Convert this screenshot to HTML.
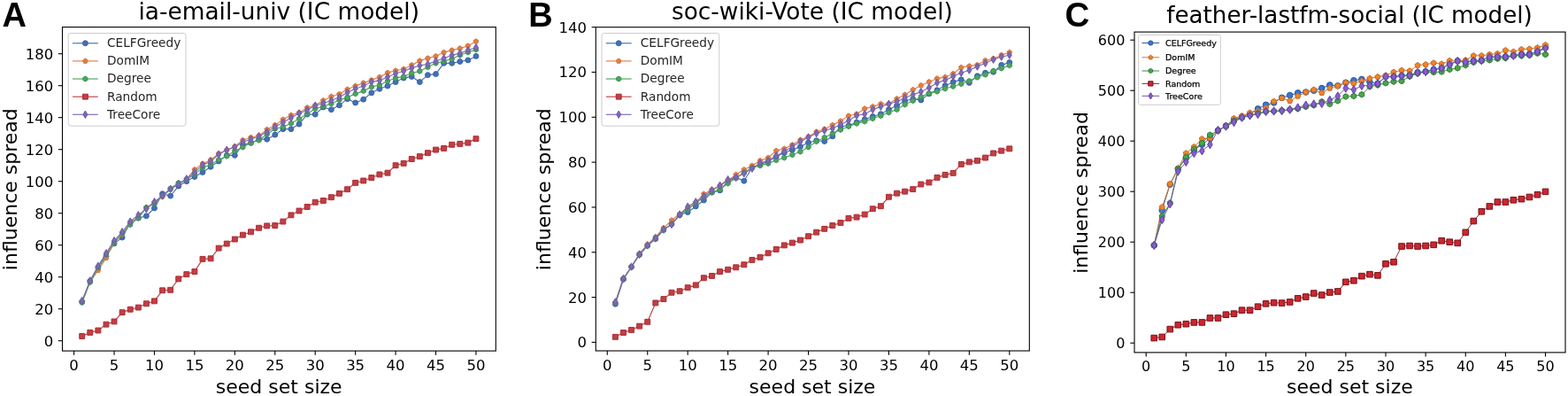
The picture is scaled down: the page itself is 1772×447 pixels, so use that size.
<!DOCTYPE html><html><head><meta charset="utf-8"><title>Influence spread</title><style>html,body{margin:0;padding:0;background:#fff;}svg{display:block;}</style></head><body><svg width="1772" height="447" viewBox="0 0 1772 447" font-family="'DejaVu Sans', 'Liberation Sans', sans-serif" fill="#000"><defs><circle id="aB" r="2.95" fill="#4470b2" stroke="#3862a8" stroke-width="1"/><polygon id="aO" points="0,-2.95 2.81,-0.91 1.73,2.39 -1.73,2.39 -2.81,-0.91" fill="#de7f48" stroke="#d87236" stroke-width="1" stroke-linejoin="miter"/><polygon id="aG" points="0,-2.95 2.55,-1.48 2.55,1.47 0,2.95 -2.55,1.48 -2.55,-1.48" fill="#4ea460" stroke="#3d9450" stroke-width="1" stroke-linejoin="miter"/><polygon id="aR" points="-2.95,-2.95 2.95,-2.95 2.95,2.95 -2.95,2.95" fill="#be4045" stroke="#b02a33" stroke-width="1" stroke-linejoin="miter"/><polygon id="aP" points="0,-4.17 2.5,0 0,4.17 -2.5,0" fill="#7d6ab3" stroke="#6c5aa8" stroke-width="1" stroke-linejoin="miter"/><circle id="aLB" r="2.95" fill="#4470b2" stroke="#3862a8" stroke-width="1"/><polygon id="aLO" points="0,-2.95 2.81,-0.91 1.73,2.39 -1.73,2.39 -2.81,-0.91" fill="#de7f48" stroke="#d87236" stroke-width="1" stroke-linejoin="miter"/><polygon id="aLG" points="0,-2.95 2.55,-1.48 2.55,1.47 0,2.95 -2.55,1.48 -2.55,-1.48" fill="#4ea460" stroke="#3d9450" stroke-width="1" stroke-linejoin="miter"/><polygon id="aLR" points="-2.95,-2.95 2.95,-2.95 2.95,2.95 -2.95,2.95" fill="#be4045" stroke="#b02a33" stroke-width="1" stroke-linejoin="miter"/><polygon id="aLP" points="0,-4.17 2.5,0 0,4.17 -2.5,0" fill="#7d6ab3" stroke="#6c5aa8" stroke-width="1" stroke-linejoin="miter"/><circle id="bB" r="2.95" fill="#4470b2" stroke="#3862a8" stroke-width="1"/><polygon id="bO" points="0,-2.95 2.81,-0.91 1.73,2.39 -1.73,2.39 -2.81,-0.91" fill="#de7f48" stroke="#d87236" stroke-width="1" stroke-linejoin="miter"/><polygon id="bG" points="0,-2.95 2.55,-1.48 2.55,1.47 0,2.95 -2.55,1.48 -2.55,-1.48" fill="#4ea460" stroke="#3d9450" stroke-width="1" stroke-linejoin="miter"/><polygon id="bR" points="-2.95,-2.95 2.95,-2.95 2.95,2.95 -2.95,2.95" fill="#be4045" stroke="#b02a33" stroke-width="1" stroke-linejoin="miter"/><polygon id="bP" points="0,-4.17 2.5,0 0,4.17 -2.5,0" fill="#7d6ab3" stroke="#6c5aa8" stroke-width="1" stroke-linejoin="miter"/><circle id="bLB" r="2.95" fill="#4470b2" stroke="#3862a8" stroke-width="1"/><polygon id="bLO" points="0,-2.95 2.81,-0.91 1.73,2.39 -1.73,2.39 -2.81,-0.91" fill="#de7f48" stroke="#d87236" stroke-width="1" stroke-linejoin="miter"/><polygon id="bLG" points="0,-2.95 2.55,-1.48 2.55,1.47 0,2.95 -2.55,1.48 -2.55,-1.48" fill="#4ea460" stroke="#3d9450" stroke-width="1" stroke-linejoin="miter"/><polygon id="bLR" points="-2.95,-2.95 2.95,-2.95 2.95,2.95 -2.95,2.95" fill="#be4045" stroke="#b02a33" stroke-width="1" stroke-linejoin="miter"/><polygon id="bLP" points="0,-4.17 2.5,0 0,4.17 -2.5,0" fill="#7d6ab3" stroke="#6c5aa8" stroke-width="1" stroke-linejoin="miter"/><circle id="cB" r="3.3" fill="#3a74d0" stroke="#2458a8" stroke-width="1"/><polygon id="cO" points="0,-3.3 3.14,-1.02 1.94,2.67 -1.94,2.67 -3.14,-1.02" fill="#f08328" stroke="#c86a20" stroke-width="1" stroke-linejoin="miter"/><polygon id="cG" points="0,-3.3 2.86,-1.65 2.86,1.65 0,3.3 -2.86,1.65 -2.86,-1.65" fill="#46a846" stroke="#2e7a30" stroke-width="1" stroke-linejoin="miter"/><polygon id="cR" points="-3.3,-3.3 3.3,-3.3 3.3,3.3 -3.3,3.3" fill="#cc2630" stroke="#7a1018" stroke-width="1" stroke-linejoin="miter"/><polygon id="cP" points="0,-4.67 2.8,0 0,4.67 -2.8,0" fill="#8a5cd0" stroke="#6040a0" stroke-width="1" stroke-linejoin="miter"/><circle id="cLB" r="2.6" fill="#3a74d0" stroke="#2458a8" stroke-width="1"/><polygon id="cLO" points="0,-2.6 2.47,-0.8 1.53,2.1 -1.53,2.1 -2.47,-0.8" fill="#f08328" stroke="#c86a20" stroke-width="1" stroke-linejoin="miter"/><polygon id="cLG" points="0,-2.6 2.25,-1.3 2.25,1.3 0,2.6 -2.25,1.3 -2.25,-1.3" fill="#46a846" stroke="#2e7a30" stroke-width="1" stroke-linejoin="miter"/><polygon id="cLR" points="-2.6,-2.6 2.6,-2.6 2.6,2.6 -2.6,2.6" fill="#cc2630" stroke="#7a1018" stroke-width="1" stroke-linejoin="miter"/><polygon id="cLP" points="0,-3.68 2.21,0 0,3.68 -2.21,0" fill="#8a5cd0" stroke="#6040a0" stroke-width="1" stroke-linejoin="miter"/></defs><rect width="1772" height="447" fill="#fff"/><polyline points="92.69,340.6 101.77,317.2 110.86,301.9 119.95,289.3 129.03,274.9 138.12,268.06 147.21,251.5 156.3,246.1 165.38,243.76 174.47,234.94 183.56,218.74 192.64,221.08 201.73,210.1 210.82,204.7 219.91,199.48 228.99,194.44 238.08,188.32 247.17,182.02 256.25,175.36 265.34,175.36 274.43,163.3 283.51,161.32 292.6,157.18 301.69,157.18 310.77,152.14 319.86,145.66 328.95,145.66 338.04,140.08 347.12,129.1 356.21,129.1 365.3,121 374.38,123.7 383.47,118.84 392.56,111.64 401.64,115.96 410.73,112.18 419.82,104.8 428.91,100.3 437.99,97.06 447.08,92.56 456.17,88.06 465.25,86.44 474.34,92.56 483.43,84.64 492.51,83.56 501.6,71.32 510.69,71.32 519.78,69.52 528.86,67.9 537.95,63.4" fill="none" stroke="#4470b2" stroke-width="1.15" stroke-linejoin="round" stroke-linecap="square"/><use href="#aB" x="92.69" y="340.6"/><use href="#aB" x="101.77" y="317.2"/><use href="#aB" x="110.86" y="301.9"/><use href="#aB" x="119.95" y="289.3"/><use href="#aB" x="129.03" y="274.9"/><use href="#aB" x="138.12" y="268.06"/><use href="#aB" x="147.21" y="251.5"/><use href="#aB" x="156.3" y="246.1"/><use href="#aB" x="165.38" y="243.76"/><use href="#aB" x="174.47" y="234.94"/><use href="#aB" x="183.56" y="218.74"/><use href="#aB" x="192.64" y="221.08"/><use href="#aB" x="201.73" y="210.1"/><use href="#aB" x="210.82" y="204.7"/><use href="#aB" x="219.91" y="199.48"/><use href="#aB" x="228.99" y="194.44"/><use href="#aB" x="238.08" y="188.32"/><use href="#aB" x="247.17" y="182.02"/><use href="#aB" x="256.25" y="175.36"/><use href="#aB" x="265.34" y="175.36"/><use href="#aB" x="274.43" y="163.3"/><use href="#aB" x="283.51" y="161.32"/><use href="#aB" x="292.6" y="157.18"/><use href="#aB" x="301.69" y="157.18"/><use href="#aB" x="310.77" y="152.14"/><use href="#aB" x="319.86" y="145.66"/><use href="#aB" x="328.95" y="145.66"/><use href="#aB" x="338.04" y="140.08"/><use href="#aB" x="347.12" y="129.1"/><use href="#aB" x="356.21" y="129.1"/><use href="#aB" x="365.3" y="121"/><use href="#aB" x="374.38" y="123.7"/><use href="#aB" x="383.47" y="118.84"/><use href="#aB" x="392.56" y="111.64"/><use href="#aB" x="401.64" y="115.96"/><use href="#aB" x="410.73" y="112.18"/><use href="#aB" x="419.82" y="104.8"/><use href="#aB" x="428.91" y="100.3"/><use href="#aB" x="437.99" y="97.06"/><use href="#aB" x="447.08" y="92.56"/><use href="#aB" x="456.17" y="88.06"/><use href="#aB" x="465.25" y="86.44"/><use href="#aB" x="474.34" y="92.56"/><use href="#aB" x="483.43" y="84.64"/><use href="#aB" x="492.51" y="83.56"/><use href="#aB" x="501.6" y="71.32"/><use href="#aB" x="510.69" y="71.32"/><use href="#aB" x="519.78" y="69.52"/><use href="#aB" x="528.86" y="67.9"/><use href="#aB" x="537.95" y="63.4"/><polyline points="92.69,340.6 101.77,318.1 110.86,305.14 119.95,291.1 129.03,274 138.12,264.46 147.21,251.5 156.3,245.2 165.38,234.04 174.47,229 183.56,221.8 192.64,213.7 201.73,207.4 210.82,202 219.91,191.38 228.99,184.72 238.08,180.4 247.17,173.38 256.25,169.24 265.34,165.28 274.43,158.26 283.51,155.2 292.6,153.22 301.69,146.2 310.77,141.16 319.86,134.86 328.95,130 338.04,127.12 347.12,121.54 356.21,118.84 365.3,113.44 374.38,108.94 383.47,106.24 392.56,100.84 401.64,97.06 410.73,93.64 419.82,90.4 428.91,86.98 437.99,82.12 447.08,79.78 456.17,77.98 465.25,73.48 474.34,68.62 483.43,65.74 492.51,63.4 501.6,59.08 510.69,56.74 519.78,54.58 528.86,51.7 537.95,46.66" fill="none" stroke="#de7f48" stroke-width="1.15" stroke-linejoin="round" stroke-linecap="square"/><use href="#aO" x="92.69" y="340.6"/><use href="#aO" x="101.77" y="318.1"/><use href="#aO" x="110.86" y="305.14"/><use href="#aO" x="119.95" y="291.1"/><use href="#aO" x="129.03" y="274"/><use href="#aO" x="138.12" y="264.46"/><use href="#aO" x="147.21" y="251.5"/><use href="#aO" x="156.3" y="245.2"/><use href="#aO" x="165.38" y="234.04"/><use href="#aO" x="174.47" y="229"/><use href="#aO" x="183.56" y="221.8"/><use href="#aO" x="192.64" y="213.7"/><use href="#aO" x="201.73" y="207.4"/><use href="#aO" x="210.82" y="202"/><use href="#aO" x="219.91" y="191.38"/><use href="#aO" x="228.99" y="184.72"/><use href="#aO" x="238.08" y="180.4"/><use href="#aO" x="247.17" y="173.38"/><use href="#aO" x="256.25" y="169.24"/><use href="#aO" x="265.34" y="165.28"/><use href="#aO" x="274.43" y="158.26"/><use href="#aO" x="283.51" y="155.2"/><use href="#aO" x="292.6" y="153.22"/><use href="#aO" x="301.69" y="146.2"/><use href="#aO" x="310.77" y="141.16"/><use href="#aO" x="319.86" y="134.86"/><use href="#aO" x="328.95" y="130"/><use href="#aO" x="338.04" y="127.12"/><use href="#aO" x="347.12" y="121.54"/><use href="#aO" x="356.21" y="118.84"/><use href="#aO" x="365.3" y="113.44"/><use href="#aO" x="374.38" y="108.94"/><use href="#aO" x="383.47" y="106.24"/><use href="#aO" x="392.56" y="100.84"/><use href="#aO" x="401.64" y="97.06"/><use href="#aO" x="410.73" y="93.64"/><use href="#aO" x="419.82" y="90.4"/><use href="#aO" x="428.91" y="86.98"/><use href="#aO" x="437.99" y="82.12"/><use href="#aO" x="447.08" y="79.78"/><use href="#aO" x="456.17" y="77.98"/><use href="#aO" x="465.25" y="73.48"/><use href="#aO" x="474.34" y="68.62"/><use href="#aO" x="483.43" y="65.74"/><use href="#aO" x="492.51" y="63.4"/><use href="#aO" x="501.6" y="59.08"/><use href="#aO" x="510.69" y="56.74"/><use href="#aO" x="519.78" y="54.58"/><use href="#aO" x="528.86" y="51.7"/><use href="#aO" x="537.95" y="46.66"/><polyline points="92.69,341.5 101.77,318.64 110.86,301.9 119.95,287.5 129.03,274 138.12,263.2 147.21,253.66 156.3,246.1 165.38,234.4 174.47,229.9 183.56,220.9 192.64,212.8 201.73,206.5 210.82,202.9 219.91,196.42 228.99,189.4 238.08,185.44 247.17,180.4 256.25,176.26 265.34,170.32 274.43,166.18 283.51,161.32 292.6,158.26 301.69,151.42 310.77,145.48 319.86,143.14 328.95,139.18 338.04,134.14 347.12,128.56 356.21,122.8 365.3,120.1 374.38,117.04 383.47,112.9 392.56,109.84 401.64,105.88 410.73,102.64 419.82,98.14 428.91,95.98 437.99,91.48 447.08,88.06 456.17,86.44 465.25,82.48 474.34,80.32 483.43,75.82 492.51,71.32 501.6,68.98 510.69,66.46 519.78,62.32 528.86,59.08 537.95,56.02" fill="none" stroke="#4ea460" stroke-width="1.15" stroke-linejoin="round" stroke-linecap="square"/><use href="#aG" x="92.69" y="341.5"/><use href="#aG" x="101.77" y="318.64"/><use href="#aG" x="110.86" y="301.9"/><use href="#aG" x="119.95" y="287.5"/><use href="#aG" x="129.03" y="274"/><use href="#aG" x="138.12" y="263.2"/><use href="#aG" x="147.21" y="253.66"/><use href="#aG" x="156.3" y="246.1"/><use href="#aG" x="165.38" y="234.4"/><use href="#aG" x="174.47" y="229.9"/><use href="#aG" x="183.56" y="220.9"/><use href="#aG" x="192.64" y="212.8"/><use href="#aG" x="201.73" y="206.5"/><use href="#aG" x="210.82" y="202.9"/><use href="#aG" x="219.91" y="196.42"/><use href="#aG" x="228.99" y="189.4"/><use href="#aG" x="238.08" y="185.44"/><use href="#aG" x="247.17" y="180.4"/><use href="#aG" x="256.25" y="176.26"/><use href="#aG" x="265.34" y="170.32"/><use href="#aG" x="274.43" y="166.18"/><use href="#aG" x="283.51" y="161.32"/><use href="#aG" x="292.6" y="158.26"/><use href="#aG" x="301.69" y="151.42"/><use href="#aG" x="310.77" y="145.48"/><use href="#aG" x="319.86" y="143.14"/><use href="#aG" x="328.95" y="139.18"/><use href="#aG" x="338.04" y="134.14"/><use href="#aG" x="347.12" y="128.56"/><use href="#aG" x="356.21" y="122.8"/><use href="#aG" x="365.3" y="120.1"/><use href="#aG" x="374.38" y="117.04"/><use href="#aG" x="383.47" y="112.9"/><use href="#aG" x="392.56" y="109.84"/><use href="#aG" x="401.64" y="105.88"/><use href="#aG" x="410.73" y="102.64"/><use href="#aG" x="419.82" y="98.14"/><use href="#aG" x="428.91" y="95.98"/><use href="#aG" x="437.99" y="91.48"/><use href="#aG" x="447.08" y="88.06"/><use href="#aG" x="456.17" y="86.44"/><use href="#aG" x="465.25" y="82.48"/><use href="#aG" x="474.34" y="80.32"/><use href="#aG" x="483.43" y="75.82"/><use href="#aG" x="492.51" y="71.32"/><use href="#aG" x="501.6" y="68.98"/><use href="#aG" x="510.69" y="66.46"/><use href="#aG" x="519.78" y="62.32"/><use href="#aG" x="528.86" y="59.08"/><use href="#aG" x="537.95" y="56.02"/><polyline points="92.69,379.48 101.77,375.34 110.86,373 119.95,366.16 129.03,362.92 138.12,352.66 147.21,349.24 156.3,347.08 165.38,342.76 174.47,339.88 183.56,327.82 192.64,327.28 201.73,314.86 210.82,309.64 219.91,306.58 228.99,292.36 238.08,291.82 247.17,280.12 256.25,275.08 265.34,270.04 274.43,265.18 283.51,261.76 292.6,257.26 301.69,254.92 310.77,254.56 319.86,250.06 328.95,242.86 338.04,238 347.12,233.5 356.21,228.28 365.3,226.48 374.38,222.7 383.47,218.38 392.56,213.7 401.64,206.32 410.73,203.98 419.82,200.56 428.91,196.96 437.99,195.16 447.08,186.7 456.17,184.36 465.25,179.5 474.34,176.62 483.43,172.66 492.51,169.06 501.6,167.44 510.69,163.3 519.78,162.4 528.86,161.14 537.95,156.64" fill="none" stroke="#be4045" stroke-width="1.15" stroke-linejoin="round" stroke-linecap="square"/><use href="#aR" x="92.69" y="379.48"/><use href="#aR" x="101.77" y="375.34"/><use href="#aR" x="110.86" y="373"/><use href="#aR" x="119.95" y="366.16"/><use href="#aR" x="129.03" y="362.92"/><use href="#aR" x="138.12" y="352.66"/><use href="#aR" x="147.21" y="349.24"/><use href="#aR" x="156.3" y="347.08"/><use href="#aR" x="165.38" y="342.76"/><use href="#aR" x="174.47" y="339.88"/><use href="#aR" x="183.56" y="327.82"/><use href="#aR" x="192.64" y="327.28"/><use href="#aR" x="201.73" y="314.86"/><use href="#aR" x="210.82" y="309.64"/><use href="#aR" x="219.91" y="306.58"/><use href="#aR" x="228.99" y="292.36"/><use href="#aR" x="238.08" y="291.82"/><use href="#aR" x="247.17" y="280.12"/><use href="#aR" x="256.25" y="275.08"/><use href="#aR" x="265.34" y="270.04"/><use href="#aR" x="274.43" y="265.18"/><use href="#aR" x="283.51" y="261.76"/><use href="#aR" x="292.6" y="257.26"/><use href="#aR" x="301.69" y="254.92"/><use href="#aR" x="310.77" y="254.56"/><use href="#aR" x="319.86" y="250.06"/><use href="#aR" x="328.95" y="242.86"/><use href="#aR" x="338.04" y="238"/><use href="#aR" x="347.12" y="233.5"/><use href="#aR" x="356.21" y="228.28"/><use href="#aR" x="365.3" y="226.48"/><use href="#aR" x="374.38" y="222.7"/><use href="#aR" x="383.47" y="218.38"/><use href="#aR" x="392.56" y="213.7"/><use href="#aR" x="401.64" y="206.32"/><use href="#aR" x="410.73" y="203.98"/><use href="#aR" x="419.82" y="200.56"/><use href="#aR" x="428.91" y="196.96"/><use href="#aR" x="437.99" y="195.16"/><use href="#aR" x="447.08" y="186.7"/><use href="#aR" x="456.17" y="184.36"/><use href="#aR" x="465.25" y="179.5"/><use href="#aR" x="474.34" y="176.62"/><use href="#aR" x="483.43" y="172.66"/><use href="#aR" x="492.51" y="169.06"/><use href="#aR" x="501.6" y="167.44"/><use href="#aR" x="510.69" y="163.3"/><use href="#aR" x="519.78" y="162.4"/><use href="#aR" x="528.86" y="161.14"/><use href="#aR" x="537.95" y="156.64"/><polyline points="92.69,339.52 101.77,316.84 110.86,300.28 119.95,285.88 129.03,271.66 138.12,261.76 147.21,250.06 156.3,242.68 165.38,235.84 174.47,227.74 183.56,221.08 192.64,213.34 201.73,207.94 210.82,201.82 219.91,194.44 228.99,186.34 238.08,182.38 247.17,174.28 256.25,169.24 265.34,166.18 274.43,160.24 283.51,157.18 292.6,153.76 301.69,149.08 310.77,143.14 319.86,138.28 328.95,133.06 338.04,128.02 347.12,124.24 356.21,119.2 365.3,116.5 374.38,113.44 383.47,109.84 392.56,104.44 401.64,100.3 410.73,97.06 419.82,92.56 428.91,90.94 437.99,86.98 447.08,83.02 456.17,80.32 465.25,76.9 474.34,74.02 483.43,72.4 492.51,68.98 501.6,65.74 510.69,62.32 519.78,60.16 528.86,56.74 537.95,53.5" fill="none" stroke="#7d6ab3" stroke-width="1.15" stroke-linejoin="round" stroke-linecap="square"/><use href="#aP" x="92.69" y="339.52"/><use href="#aP" x="101.77" y="316.84"/><use href="#aP" x="110.86" y="300.28"/><use href="#aP" x="119.95" y="285.88"/><use href="#aP" x="129.03" y="271.66"/><use href="#aP" x="138.12" y="261.76"/><use href="#aP" x="147.21" y="250.06"/><use href="#aP" x="156.3" y="242.68"/><use href="#aP" x="165.38" y="235.84"/><use href="#aP" x="174.47" y="227.74"/><use href="#aP" x="183.56" y="221.08"/><use href="#aP" x="192.64" y="213.34"/><use href="#aP" x="201.73" y="207.94"/><use href="#aP" x="210.82" y="201.82"/><use href="#aP" x="219.91" y="194.44"/><use href="#aP" x="228.99" y="186.34"/><use href="#aP" x="238.08" y="182.38"/><use href="#aP" x="247.17" y="174.28"/><use href="#aP" x="256.25" y="169.24"/><use href="#aP" x="265.34" y="166.18"/><use href="#aP" x="274.43" y="160.24"/><use href="#aP" x="283.51" y="157.18"/><use href="#aP" x="292.6" y="153.76"/><use href="#aP" x="301.69" y="149.08"/><use href="#aP" x="310.77" y="143.14"/><use href="#aP" x="319.86" y="138.28"/><use href="#aP" x="328.95" y="133.06"/><use href="#aP" x="338.04" y="128.02"/><use href="#aP" x="347.12" y="124.24"/><use href="#aP" x="356.21" y="119.2"/><use href="#aP" x="365.3" y="116.5"/><use href="#aP" x="374.38" y="113.44"/><use href="#aP" x="383.47" y="109.84"/><use href="#aP" x="392.56" y="104.44"/><use href="#aP" x="401.64" y="100.3"/><use href="#aP" x="410.73" y="97.06"/><use href="#aP" x="419.82" y="92.56"/><use href="#aP" x="428.91" y="90.94"/><use href="#aP" x="437.99" y="86.98"/><use href="#aP" x="447.08" y="83.02"/><use href="#aP" x="456.17" y="80.32"/><use href="#aP" x="465.25" y="76.9"/><use href="#aP" x="474.34" y="74.02"/><use href="#aP" x="483.43" y="72.4"/><use href="#aP" x="492.51" y="68.98"/><use href="#aP" x="501.6" y="65.74"/><use href="#aP" x="510.69" y="62.32"/><use href="#aP" x="519.78" y="60.16"/><use href="#aP" x="528.86" y="56.74"/><use href="#aP" x="537.95" y="53.5"/><rect x="70.5" y="30.6" width="489.8" height="365.5" fill="none" stroke="#000" stroke-width="1.1"/><line x1="83.6" y1="396.1" x2="83.6" y2="400.77" stroke="#000" stroke-width="1.1"/><text x="83.6" y="418.2" text-anchor="middle" font-size="16.5">0</text><line x1="129.03" y1="396.1" x2="129.03" y2="400.77" stroke="#000" stroke-width="1.1"/><text x="129.03" y="418.2" text-anchor="middle" font-size="16.5">5</text><line x1="174.47" y1="396.1" x2="174.47" y2="400.77" stroke="#000" stroke-width="1.1"/><text x="174.47" y="418.2" text-anchor="middle" font-size="16.5">10</text><line x1="219.91" y1="396.1" x2="219.91" y2="400.77" stroke="#000" stroke-width="1.1"/><text x="219.91" y="418.2" text-anchor="middle" font-size="16.5">15</text><line x1="265.34" y1="396.1" x2="265.34" y2="400.77" stroke="#000" stroke-width="1.1"/><text x="265.34" y="418.2" text-anchor="middle" font-size="16.5">20</text><line x1="310.77" y1="396.1" x2="310.77" y2="400.77" stroke="#000" stroke-width="1.1"/><text x="310.77" y="418.2" text-anchor="middle" font-size="16.5">25</text><line x1="356.21" y1="396.1" x2="356.21" y2="400.77" stroke="#000" stroke-width="1.1"/><text x="356.21" y="418.2" text-anchor="middle" font-size="16.5">30</text><line x1="401.64" y1="396.1" x2="401.64" y2="400.77" stroke="#000" stroke-width="1.1"/><text x="401.64" y="418.2" text-anchor="middle" font-size="16.5">35</text><line x1="447.08" y1="396.1" x2="447.08" y2="400.77" stroke="#000" stroke-width="1.1"/><text x="447.08" y="418.2" text-anchor="middle" font-size="16.5">40</text><line x1="492.51" y1="396.1" x2="492.51" y2="400.77" stroke="#000" stroke-width="1.1"/><text x="492.51" y="418.2" text-anchor="middle" font-size="16.5">45</text><line x1="537.95" y1="396.1" x2="537.95" y2="400.77" stroke="#000" stroke-width="1.1"/><text x="537.95" y="418.2" text-anchor="middle" font-size="16.5">50</text><line x1="65.83" y1="384.7" x2="70.5" y2="384.7" stroke="#000" stroke-width="1.1"/><text x="60.2" y="390.7" text-anchor="end" font-size="16.5">0</text><line x1="65.83" y1="348.7" x2="70.5" y2="348.7" stroke="#000" stroke-width="1.1"/><text x="60.2" y="354.7" text-anchor="end" font-size="16.5">20</text><line x1="65.83" y1="312.7" x2="70.5" y2="312.7" stroke="#000" stroke-width="1.1"/><text x="60.2" y="318.7" text-anchor="end" font-size="16.5">40</text><line x1="65.83" y1="276.7" x2="70.5" y2="276.7" stroke="#000" stroke-width="1.1"/><text x="60.2" y="282.7" text-anchor="end" font-size="16.5">60</text><line x1="65.83" y1="240.7" x2="70.5" y2="240.7" stroke="#000" stroke-width="1.1"/><text x="60.2" y="246.7" text-anchor="end" font-size="16.5">80</text><line x1="65.83" y1="204.7" x2="70.5" y2="204.7" stroke="#000" stroke-width="1.1"/><text x="60.2" y="210.7" text-anchor="end" font-size="16.5">100</text><line x1="65.83" y1="168.7" x2="70.5" y2="168.7" stroke="#000" stroke-width="1.1"/><text x="60.2" y="174.7" text-anchor="end" font-size="16.5">120</text><line x1="65.83" y1="132.7" x2="70.5" y2="132.7" stroke="#000" stroke-width="1.1"/><text x="60.2" y="138.7" text-anchor="end" font-size="16.5">140</text><line x1="65.83" y1="96.7" x2="70.5" y2="96.7" stroke="#000" stroke-width="1.1"/><text x="60.2" y="102.7" text-anchor="end" font-size="16.5">160</text><line x1="65.83" y1="60.7" x2="70.5" y2="60.7" stroke="#000" stroke-width="1.1"/><text x="60.2" y="66.7" text-anchor="end" font-size="16.5">180</text><text x="315.2" y="444" text-anchor="middle" font-size="22">seed set size</text><text transform="translate(18.8,213.7) rotate(-90)" text-anchor="middle" font-size="22">influence spread</text><text x="315.2" y="22.4" text-anchor="middle" font-size="26.4">ia-email-univ (IC model)</text><text x="2.6" y="29.8" font-size="38" font-weight="bold" style="font-family:'Liberation Sans', Arial, sans-serif">A</text><rect x="77.2" y="37.5" width="132.8" height="104.7" rx="2.7" fill="#fff" fill-opacity="0.8" stroke="#cccccc" stroke-width="1"/><line x1="82" y1="48.8" x2="110.8" y2="48.8" stroke="#4470b2" stroke-width="1.15"/><use href="#aLB" x="96.4" y="48.8"/><text x="121" y="53.2" font-size="13.7" fill="#262626">CELFGreedy</text><line x1="82" y1="68.92" x2="110.8" y2="68.92" stroke="#de7f48" stroke-width="1.15"/><use href="#aLO" x="96.4" y="68.92"/><text x="121" y="73.32" font-size="13.7" fill="#262626">DomIM</text><line x1="82" y1="89.04" x2="110.8" y2="89.04" stroke="#4ea460" stroke-width="1.15"/><use href="#aLG" x="96.4" y="89.04"/><text x="121" y="93.44" font-size="13.7" fill="#262626">Degree</text><line x1="82" y1="109.16" x2="110.8" y2="109.16" stroke="#be4045" stroke-width="1.15"/><use href="#aLR" x="96.4" y="109.16"/><text x="121" y="113.56" font-size="13.7" fill="#262626">Random</text><line x1="82" y1="129.28" x2="110.8" y2="129.28" stroke="#7d6ab3" stroke-width="1.15"/><use href="#aLP" x="96.4" y="129.28"/><text x="121" y="133.68" font-size="13.7" fill="#262626">TreeCore</text><polyline points="695.39,343.2 704.48,315.25 713.57,301.28 722.66,287.3 731.75,277.14 740.84,269.51 749.93,259.35 759.02,253 768.11,242.83 777.2,239.53 786.29,232.92 795.38,226.06 804.47,217.17 813.56,214.88 822.65,204.72 831.74,200.4 840.83,204.21 849.92,189.22 859.01,185.66 868.1,182.36 877.19,176.77 886.28,172.45 895.37,169.14 904.46,165.59 913.55,161.01 922.64,158.73 931.73,159.49 940.82,153.9 949.91,142.72 959,141.7 968.09,138.14 977.18,134.84 986.27,131.54 995.36,128.74 1004.45,123.66 1013.54,119.34 1022.63,113.75 1031.72,111.97 1040.81,112.99 1049.9,105.87 1058.99,101.81 1068.08,96.73 1077.17,92.66 1086.26,89.87 1095.35,93.42 1104.44,85.8 1113.53,82.24 1122.62,81.23 1131.71,73.35 1140.8,70.55" fill="none" stroke="#4470b2" stroke-width="1.15" stroke-linejoin="round" stroke-linecap="square"/><use href="#bB" x="695.39" y="343.2"/><use href="#bB" x="704.48" y="315.25"/><use href="#bB" x="713.57" y="301.28"/><use href="#bB" x="722.66" y="287.3"/><use href="#bB" x="731.75" y="277.14"/><use href="#bB" x="740.84" y="269.51"/><use href="#bB" x="749.93" y="259.35"/><use href="#bB" x="759.02" y="253"/><use href="#bB" x="768.11" y="242.83"/><use href="#bB" x="777.2" y="239.53"/><use href="#bB" x="786.29" y="232.92"/><use href="#bB" x="795.38" y="226.06"/><use href="#bB" x="804.47" y="217.17"/><use href="#bB" x="813.56" y="214.88"/><use href="#bB" x="822.65" y="204.72"/><use href="#bB" x="831.74" y="200.4"/><use href="#bB" x="840.83" y="204.21"/><use href="#bB" x="849.92" y="189.22"/><use href="#bB" x="859.01" y="185.66"/><use href="#bB" x="868.1" y="182.36"/><use href="#bB" x="877.19" y="176.77"/><use href="#bB" x="886.28" y="172.45"/><use href="#bB" x="895.37" y="169.14"/><use href="#bB" x="904.46" y="165.59"/><use href="#bB" x="913.55" y="161.01"/><use href="#bB" x="922.64" y="158.73"/><use href="#bB" x="931.73" y="159.49"/><use href="#bB" x="940.82" y="153.9"/><use href="#bB" x="949.91" y="142.72"/><use href="#bB" x="959" y="141.7"/><use href="#bB" x="968.09" y="138.14"/><use href="#bB" x="977.18" y="134.84"/><use href="#bB" x="986.27" y="131.54"/><use href="#bB" x="995.36" y="128.74"/><use href="#bB" x="1004.45" y="123.66"/><use href="#bB" x="1013.54" y="119.34"/><use href="#bB" x="1022.63" y="113.75"/><use href="#bB" x="1031.72" y="111.97"/><use href="#bB" x="1040.81" y="112.99"/><use href="#bB" x="1049.9" y="105.87"/><use href="#bB" x="1058.99" y="101.81"/><use href="#bB" x="1068.08" y="96.73"/><use href="#bB" x="1077.17" y="92.66"/><use href="#bB" x="1086.26" y="89.87"/><use href="#bB" x="1095.35" y="93.42"/><use href="#bB" x="1104.44" y="85.8"/><use href="#bB" x="1113.53" y="82.24"/><use href="#bB" x="1122.62" y="81.23"/><use href="#bB" x="1131.71" y="73.35"/><use href="#bB" x="1140.8" y="70.55"/><polyline points="695.39,341.93 704.48,313.98 713.57,301.28 722.66,286.03 731.75,275.87 740.84,267.48 749.93,257.32 759.02,248.68 768.11,241.56 777.2,235.21 786.29,228.86 795.38,218.95 804.47,214.12 813.56,209.8 822.65,203.7 831.74,197.1 840.83,191.51 849.92,186.93 859.01,181.34 868.1,178.04 877.19,170.16 886.28,167.87 895.37,163.55 904.46,157.96 913.55,154.41 922.64,148.82 931.73,145.77 940.82,141.19 949.91,136.62 959,130.78 968.09,128.74 977.18,122.64 986.27,120.36 995.36,117.31 1004.45,117.05 1013.54,111.46 1022.63,106.89 1031.72,101.3 1040.81,96.47 1049.9,92.41 1058.99,88.59 1068.08,87.07 1077.17,83.26 1086.26,76.14 1095.35,74.62 1104.44,73.35 1113.53,68.27 1122.62,66.23 1131.71,62.17 1140.8,59.12" fill="none" stroke="#de7f48" stroke-width="1.15" stroke-linejoin="round" stroke-linecap="square"/><use href="#bO" x="695.39" y="341.93"/><use href="#bO" x="704.48" y="313.98"/><use href="#bO" x="713.57" y="301.28"/><use href="#bO" x="722.66" y="286.03"/><use href="#bO" x="731.75" y="275.87"/><use href="#bO" x="740.84" y="267.48"/><use href="#bO" x="749.93" y="257.32"/><use href="#bO" x="759.02" y="248.68"/><use href="#bO" x="768.11" y="241.56"/><use href="#bO" x="777.2" y="235.21"/><use href="#bO" x="786.29" y="228.86"/><use href="#bO" x="795.38" y="218.95"/><use href="#bO" x="804.47" y="214.12"/><use href="#bO" x="813.56" y="209.8"/><use href="#bO" x="822.65" y="203.7"/><use href="#bO" x="831.74" y="197.1"/><use href="#bO" x="840.83" y="191.51"/><use href="#bO" x="849.92" y="186.93"/><use href="#bO" x="859.01" y="181.34"/><use href="#bO" x="868.1" y="178.04"/><use href="#bO" x="877.19" y="170.16"/><use href="#bO" x="886.28" y="167.87"/><use href="#bO" x="895.37" y="163.55"/><use href="#bO" x="904.46" y="157.96"/><use href="#bO" x="913.55" y="154.41"/><use href="#bO" x="922.64" y="148.82"/><use href="#bO" x="931.73" y="145.77"/><use href="#bO" x="940.82" y="141.19"/><use href="#bO" x="949.91" y="136.62"/><use href="#bO" x="959" y="130.78"/><use href="#bO" x="968.09" y="128.74"/><use href="#bO" x="977.18" y="122.64"/><use href="#bO" x="986.27" y="120.36"/><use href="#bO" x="995.36" y="117.31"/><use href="#bO" x="1004.45" y="117.05"/><use href="#bO" x="1013.54" y="111.46"/><use href="#bO" x="1022.63" y="106.89"/><use href="#bO" x="1031.72" y="101.3"/><use href="#bO" x="1040.81" y="96.47"/><use href="#bO" x="1049.9" y="92.41"/><use href="#bO" x="1058.99" y="88.59"/><use href="#bO" x="1068.08" y="87.07"/><use href="#bO" x="1077.17" y="83.26"/><use href="#bO" x="1086.26" y="76.14"/><use href="#bO" x="1095.35" y="74.62"/><use href="#bO" x="1104.44" y="73.35"/><use href="#bO" x="1113.53" y="68.27"/><use href="#bO" x="1122.62" y="66.23"/><use href="#bO" x="1131.71" y="62.17"/><use href="#bO" x="1140.8" y="59.12"/><polyline points="695.39,341.93 704.48,315.25 713.57,301.28 722.66,287.81 731.75,277.65 740.84,269.51 749.93,259.86 759.02,253 768.11,242.83 777.2,236.48 786.29,229.37 795.38,222.76 804.47,217.17 813.56,213.87 822.65,207.01 831.74,200.91 840.83,194.81 849.92,189.22 859.01,186.93 868.1,184.64 877.19,180.83 886.28,178.04 895.37,174.73 904.46,171.18 913.55,166.1 922.64,159.74 931.73,155.17 940.82,150.6 949.91,146.53 959,142.72 968.09,139.41 977.18,137.13 986.27,133.82 995.36,130.78 1004.45,126.96 1013.54,123.66 1022.63,118.07 1031.72,113.75 1040.81,109.18 1049.9,105.37 1058.99,103.33 1068.08,100.03 1077.17,97.49 1086.26,94.69 1095.35,91.39 1104.44,87.32 1113.53,84.28 1122.62,79.96 1131.71,77.16 1140.8,73.86" fill="none" stroke="#4ea460" stroke-width="1.15" stroke-linejoin="round" stroke-linecap="square"/><use href="#bG" x="695.39" y="341.93"/><use href="#bG" x="704.48" y="315.25"/><use href="#bG" x="713.57" y="301.28"/><use href="#bG" x="722.66" y="287.81"/><use href="#bG" x="731.75" y="277.65"/><use href="#bG" x="740.84" y="269.51"/><use href="#bG" x="749.93" y="259.86"/><use href="#bG" x="759.02" y="253"/><use href="#bG" x="768.11" y="242.83"/><use href="#bG" x="777.2" y="236.48"/><use href="#bG" x="786.29" y="229.37"/><use href="#bG" x="795.38" y="222.76"/><use href="#bG" x="804.47" y="217.17"/><use href="#bG" x="813.56" y="213.87"/><use href="#bG" x="822.65" y="207.01"/><use href="#bG" x="831.74" y="200.91"/><use href="#bG" x="840.83" y="194.81"/><use href="#bG" x="849.92" y="189.22"/><use href="#bG" x="859.01" y="186.93"/><use href="#bG" x="868.1" y="184.64"/><use href="#bG" x="877.19" y="180.83"/><use href="#bG" x="886.28" y="178.04"/><use href="#bG" x="895.37" y="174.73"/><use href="#bG" x="904.46" y="171.18"/><use href="#bG" x="913.55" y="166.1"/><use href="#bG" x="922.64" y="159.74"/><use href="#bG" x="931.73" y="155.17"/><use href="#bG" x="940.82" y="150.6"/><use href="#bG" x="949.91" y="146.53"/><use href="#bG" x="959" y="142.72"/><use href="#bG" x="968.09" y="139.41"/><use href="#bG" x="977.18" y="137.13"/><use href="#bG" x="986.27" y="133.82"/><use href="#bG" x="995.36" y="130.78"/><use href="#bG" x="1004.45" y="126.96"/><use href="#bG" x="1013.54" y="123.66"/><use href="#bG" x="1022.63" y="118.07"/><use href="#bG" x="1031.72" y="113.75"/><use href="#bG" x="1040.81" y="109.18"/><use href="#bG" x="1049.9" y="105.37"/><use href="#bG" x="1058.99" y="103.33"/><use href="#bG" x="1068.08" y="100.03"/><use href="#bG" x="1077.17" y="97.49"/><use href="#bG" x="1086.26" y="94.69"/><use href="#bG" x="1095.35" y="91.39"/><use href="#bG" x="1104.44" y="87.32"/><use href="#bG" x="1113.53" y="84.28"/><use href="#bG" x="1122.62" y="79.96"/><use href="#bG" x="1131.71" y="77.16"/><use href="#bG" x="1140.8" y="73.86"/><polyline points="695.39,380.3 704.48,375.47 713.57,372.42 722.66,368.1 731.75,363.28 740.84,341.93 749.93,337.61 759.02,330.24 768.11,328.72 777.2,324.65 786.29,321.86 795.38,313.73 804.47,311.44 813.56,306.61 822.65,304.33 831.74,301.78 840.83,298.74 849.92,293.4 859.01,290.35 868.1,285.78 877.19,281.46 886.28,276.88 895.37,274.09 904.46,271.04 913.55,266.72 922.64,262.15 931.73,258.33 940.82,254.52 949.91,251.47 959,246.39 968.09,245.12 977.18,242.07 986.27,235.72 995.36,232.67 1004.45,222.25 1013.54,218.19 1022.63,216.15 1031.72,213.61 1040.81,208.02 1049.9,205.99 1058.99,200.4 1068.08,197.35 1077.17,195.32 1086.26,185.41 1095.35,182.87 1104.44,181.34 1113.53,178.04 1122.62,172.96 1131.71,170.16 1140.8,167.87" fill="none" stroke="#be4045" stroke-width="1.15" stroke-linejoin="round" stroke-linecap="square"/><use href="#bR" x="695.39" y="380.3"/><use href="#bR" x="704.48" y="375.47"/><use href="#bR" x="713.57" y="372.42"/><use href="#bR" x="722.66" y="368.1"/><use href="#bR" x="731.75" y="363.28"/><use href="#bR" x="740.84" y="341.93"/><use href="#bR" x="749.93" y="337.61"/><use href="#bR" x="759.02" y="330.24"/><use href="#bR" x="768.11" y="328.72"/><use href="#bR" x="777.2" y="324.65"/><use href="#bR" x="786.29" y="321.86"/><use href="#bR" x="795.38" y="313.73"/><use href="#bR" x="804.47" y="311.44"/><use href="#bR" x="813.56" y="306.61"/><use href="#bR" x="822.65" y="304.33"/><use href="#bR" x="831.74" y="301.78"/><use href="#bR" x="840.83" y="298.74"/><use href="#bR" x="849.92" y="293.4"/><use href="#bR" x="859.01" y="290.35"/><use href="#bR" x="868.1" y="285.78"/><use href="#bR" x="877.19" y="281.46"/><use href="#bR" x="886.28" y="276.88"/><use href="#bR" x="895.37" y="274.09"/><use href="#bR" x="904.46" y="271.04"/><use href="#bR" x="913.55" y="266.72"/><use href="#bR" x="922.64" y="262.15"/><use href="#bR" x="931.73" y="258.33"/><use href="#bR" x="940.82" y="254.52"/><use href="#bR" x="949.91" y="251.47"/><use href="#bR" x="959" y="246.39"/><use href="#bR" x="968.09" y="245.12"/><use href="#bR" x="977.18" y="242.07"/><use href="#bR" x="986.27" y="235.72"/><use href="#bR" x="995.36" y="232.67"/><use href="#bR" x="1004.45" y="222.25"/><use href="#bR" x="1013.54" y="218.19"/><use href="#bR" x="1022.63" y="216.15"/><use href="#bR" x="1031.72" y="213.61"/><use href="#bR" x="1040.81" y="208.02"/><use href="#bR" x="1049.9" y="205.99"/><use href="#bR" x="1058.99" y="200.4"/><use href="#bR" x="1068.08" y="197.35"/><use href="#bR" x="1077.17" y="195.32"/><use href="#bR" x="1086.26" y="185.41"/><use href="#bR" x="1095.35" y="182.87"/><use href="#bR" x="1104.44" y="181.34"/><use href="#bR" x="1113.53" y="178.04"/><use href="#bR" x="1122.62" y="172.96"/><use href="#bR" x="1131.71" y="170.16"/><use href="#bR" x="1140.8" y="167.87"/><polyline points="695.39,340.92 704.48,314.49 713.57,301.02 722.66,287.3 731.75,276.88 740.84,269.01 749.93,259.1 759.02,253.51 768.11,242.07 777.2,233.18 786.29,227.84 795.38,221.74 804.47,214.88 813.56,209.29 822.65,202.69 831.74,200.4 840.83,195.82 849.92,190.23 859.01,184.14 868.1,181.34 877.19,175.75 886.28,171.18 895.37,165.59 904.46,160 913.55,154.91 922.64,150.6 931.73,147.29 940.82,145 949.91,140.43 959,136.11 968.09,130.52 977.18,128.74 986.27,123.66 995.36,120.36 1004.45,117.31 1013.54,114.77 1022.63,110.19 1031.72,106.89 1040.81,103.59 1049.9,99.01 1058.99,93.42 1068.08,90.63 1077.17,86.31 1086.26,82.24 1095.35,79.19 1104.44,75.13 1113.53,71.32 1122.62,67.25 1131.71,64.2 1140.8,62.17" fill="none" stroke="#7d6ab3" stroke-width="1.15" stroke-linejoin="round" stroke-linecap="square"/><use href="#bP" x="695.39" y="340.92"/><use href="#bP" x="704.48" y="314.49"/><use href="#bP" x="713.57" y="301.02"/><use href="#bP" x="722.66" y="287.3"/><use href="#bP" x="731.75" y="276.88"/><use href="#bP" x="740.84" y="269.01"/><use href="#bP" x="749.93" y="259.1"/><use href="#bP" x="759.02" y="253.51"/><use href="#bP" x="768.11" y="242.07"/><use href="#bP" x="777.2" y="233.18"/><use href="#bP" x="786.29" y="227.84"/><use href="#bP" x="795.38" y="221.74"/><use href="#bP" x="804.47" y="214.88"/><use href="#bP" x="813.56" y="209.29"/><use href="#bP" x="822.65" y="202.69"/><use href="#bP" x="831.74" y="200.4"/><use href="#bP" x="840.83" y="195.82"/><use href="#bP" x="849.92" y="190.23"/><use href="#bP" x="859.01" y="184.14"/><use href="#bP" x="868.1" y="181.34"/><use href="#bP" x="877.19" y="175.75"/><use href="#bP" x="886.28" y="171.18"/><use href="#bP" x="895.37" y="165.59"/><use href="#bP" x="904.46" y="160"/><use href="#bP" x="913.55" y="154.91"/><use href="#bP" x="922.64" y="150.6"/><use href="#bP" x="931.73" y="147.29"/><use href="#bP" x="940.82" y="145"/><use href="#bP" x="949.91" y="140.43"/><use href="#bP" x="959" y="136.11"/><use href="#bP" x="968.09" y="130.52"/><use href="#bP" x="977.18" y="128.74"/><use href="#bP" x="986.27" y="123.66"/><use href="#bP" x="995.36" y="120.36"/><use href="#bP" x="1004.45" y="117.31"/><use href="#bP" x="1013.54" y="114.77"/><use href="#bP" x="1022.63" y="110.19"/><use href="#bP" x="1031.72" y="106.89"/><use href="#bP" x="1040.81" y="103.59"/><use href="#bP" x="1049.9" y="99.01"/><use href="#bP" x="1058.99" y="93.42"/><use href="#bP" x="1068.08" y="90.63"/><use href="#bP" x="1077.17" y="86.31"/><use href="#bP" x="1086.26" y="82.24"/><use href="#bP" x="1095.35" y="79.19"/><use href="#bP" x="1104.44" y="75.13"/><use href="#bP" x="1113.53" y="71.32"/><use href="#bP" x="1122.62" y="67.25"/><use href="#bP" x="1131.71" y="64.2"/><use href="#bP" x="1140.8" y="62.17"/><rect x="673.3" y="30.7" width="490" height="365.3" fill="none" stroke="#000" stroke-width="1.1"/><line x1="686.3" y1="396" x2="686.3" y2="400.67" stroke="#000" stroke-width="1.1"/><text x="686.3" y="418.2" text-anchor="middle" font-size="16.5">0</text><line x1="731.75" y1="396" x2="731.75" y2="400.67" stroke="#000" stroke-width="1.1"/><text x="731.75" y="418.2" text-anchor="middle" font-size="16.5">5</text><line x1="777.2" y1="396" x2="777.2" y2="400.67" stroke="#000" stroke-width="1.1"/><text x="777.2" y="418.2" text-anchor="middle" font-size="16.5">10</text><line x1="822.65" y1="396" x2="822.65" y2="400.67" stroke="#000" stroke-width="1.1"/><text x="822.65" y="418.2" text-anchor="middle" font-size="16.5">15</text><line x1="868.1" y1="396" x2="868.1" y2="400.67" stroke="#000" stroke-width="1.1"/><text x="868.1" y="418.2" text-anchor="middle" font-size="16.5">20</text><line x1="913.55" y1="396" x2="913.55" y2="400.67" stroke="#000" stroke-width="1.1"/><text x="913.55" y="418.2" text-anchor="middle" font-size="16.5">25</text><line x1="959" y1="396" x2="959" y2="400.67" stroke="#000" stroke-width="1.1"/><text x="959" y="418.2" text-anchor="middle" font-size="16.5">30</text><line x1="1004.45" y1="396" x2="1004.45" y2="400.67" stroke="#000" stroke-width="1.1"/><text x="1004.45" y="418.2" text-anchor="middle" font-size="16.5">35</text><line x1="1049.9" y1="396" x2="1049.9" y2="400.67" stroke="#000" stroke-width="1.1"/><text x="1049.9" y="418.2" text-anchor="middle" font-size="16.5">40</text><line x1="1095.35" y1="396" x2="1095.35" y2="400.67" stroke="#000" stroke-width="1.1"/><text x="1095.35" y="418.2" text-anchor="middle" font-size="16.5">45</text><line x1="1140.8" y1="396" x2="1140.8" y2="400.67" stroke="#000" stroke-width="1.1"/><text x="1140.8" y="418.2" text-anchor="middle" font-size="16.5">50</text><line x1="668.63" y1="386.4" x2="673.3" y2="386.4" stroke="#000" stroke-width="1.1"/><text x="663" y="392.4" text-anchor="end" font-size="16.5">0</text><line x1="668.63" y1="335.58" x2="673.3" y2="335.58" stroke="#000" stroke-width="1.1"/><text x="663" y="341.58" text-anchor="end" font-size="16.5">20</text><line x1="668.63" y1="284.76" x2="673.3" y2="284.76" stroke="#000" stroke-width="1.1"/><text x="663" y="290.76" text-anchor="end" font-size="16.5">40</text><line x1="668.63" y1="233.94" x2="673.3" y2="233.94" stroke="#000" stroke-width="1.1"/><text x="663" y="239.94" text-anchor="end" font-size="16.5">60</text><line x1="668.63" y1="183.12" x2="673.3" y2="183.12" stroke="#000" stroke-width="1.1"/><text x="663" y="189.12" text-anchor="end" font-size="16.5">80</text><line x1="668.63" y1="132.3" x2="673.3" y2="132.3" stroke="#000" stroke-width="1.1"/><text x="663" y="138.3" text-anchor="end" font-size="16.5">100</text><line x1="668.63" y1="81.48" x2="673.3" y2="81.48" stroke="#000" stroke-width="1.1"/><text x="663" y="87.48" text-anchor="end" font-size="16.5">120</text><line x1="668.63" y1="30.66" x2="673.3" y2="30.66" stroke="#000" stroke-width="1.1"/><text x="663" y="36.66" text-anchor="end" font-size="16.5">140</text><text x="918" y="444" text-anchor="middle" font-size="22">seed set size</text><text transform="translate(621.6,213.7) rotate(-90)" text-anchor="middle" font-size="22">influence spread</text><text x="917.9" y="22.4" text-anchor="middle" font-size="26.4">soc-wiki-Vote (IC model)</text><text x="597.2" y="29.8" font-size="38" font-weight="bold" style="font-family:'Liberation Sans', Arial, sans-serif">B</text><rect x="680" y="37.5" width="132.8" height="104.7" rx="2.7" fill="#fff" fill-opacity="0.8" stroke="#cccccc" stroke-width="1"/><line x1="684.8" y1="48.8" x2="713.6" y2="48.8" stroke="#4470b2" stroke-width="1.15"/><use href="#bLB" x="699.2" y="48.8"/><text x="723.8" y="53.2" font-size="13.7" fill="#262626">CELFGreedy</text><line x1="684.8" y1="68.92" x2="713.6" y2="68.92" stroke="#de7f48" stroke-width="1.15"/><use href="#bLO" x="699.2" y="68.92"/><text x="723.8" y="73.32" font-size="13.7" fill="#262626">DomIM</text><line x1="684.8" y1="89.04" x2="713.6" y2="89.04" stroke="#4ea460" stroke-width="1.15"/><use href="#bLG" x="699.2" y="89.04"/><text x="723.8" y="93.44" font-size="13.7" fill="#262626">Degree</text><line x1="684.8" y1="109.16" x2="713.6" y2="109.16" stroke="#be4045" stroke-width="1.15"/><use href="#bLR" x="699.2" y="109.16"/><text x="723.8" y="113.56" font-size="13.7" fill="#262626">Random</text><line x1="684.8" y1="129.28" x2="713.6" y2="129.28" stroke="#7d6ab3" stroke-width="1.15"/><use href="#bLP" x="699.2" y="129.28"/><text x="723.8" y="133.68" font-size="13.7" fill="#262626">TreeCore</text><polyline points="1304.23,276.9 1313.25,237.29 1322.28,208.22 1331.3,190.55 1340.33,178.3 1349.36,169.46 1358.38,163.13 1367.41,156.35 1376.43,147.23 1385.46,142.1 1394.49,135.26 1403.51,131.84 1412.54,128.42 1421.56,122.78 1430.59,118.33 1439.62,115.88 1448.64,110.24 1457.67,107.56 1466.69,104.88 1475.72,104.02 1484.75,102.2 1493.77,99.52 1502.8,95.93 1511.82,96.84 1520.85,93.25 1529.88,90.8 1538.9,89.43 1547.93,92.51 1556.95,94.22 1565.98,86.47 1575.01,86.47 1584.03,85.5 1593.06,84.87 1602.08,81.74 1611.11,80.77 1620.14,78.55 1629.16,76.84 1638.19,72.62 1647.21,68.74 1656.24,69.94 1665.27,68.63 1674.29,67.94 1683.32,64.35 1692.34,63.95 1701.37,63.95 1710.4,62.59 1719.42,61.22 1728.45,61.22 1737.47,57.91 1746.5,53.47" fill="none" stroke="#3a5a90" stroke-width="1" stroke-linejoin="round" stroke-linecap="square"/><use href="#cB" x="1304.23" y="276.9"/><use href="#cB" x="1313.25" y="237.29"/><use href="#cB" x="1322.28" y="208.22"/><use href="#cB" x="1331.3" y="190.55"/><use href="#cB" x="1340.33" y="178.3"/><use href="#cB" x="1349.36" y="169.46"/><use href="#cB" x="1358.38" y="163.13"/><use href="#cB" x="1367.41" y="156.35"/><use href="#cB" x="1376.43" y="147.23"/><use href="#cB" x="1385.46" y="142.1"/><use href="#cB" x="1394.49" y="135.26"/><use href="#cB" x="1403.51" y="131.84"/><use href="#cB" x="1412.54" y="128.42"/><use href="#cB" x="1421.56" y="122.78"/><use href="#cB" x="1430.59" y="118.33"/><use href="#cB" x="1439.62" y="115.88"/><use href="#cB" x="1448.64" y="110.24"/><use href="#cB" x="1457.67" y="107.56"/><use href="#cB" x="1466.69" y="104.88"/><use href="#cB" x="1475.72" y="104.02"/><use href="#cB" x="1484.75" y="102.2"/><use href="#cB" x="1493.77" y="99.52"/><use href="#cB" x="1502.8" y="95.93"/><use href="#cB" x="1511.82" y="96.84"/><use href="#cB" x="1520.85" y="93.25"/><use href="#cB" x="1529.88" y="90.8"/><use href="#cB" x="1538.9" y="89.43"/><use href="#cB" x="1547.93" y="92.51"/><use href="#cB" x="1556.95" y="94.22"/><use href="#cB" x="1565.98" y="86.47"/><use href="#cB" x="1575.01" y="86.47"/><use href="#cB" x="1584.03" y="85.5"/><use href="#cB" x="1593.06" y="84.87"/><use href="#cB" x="1602.08" y="81.74"/><use href="#cB" x="1611.11" y="80.77"/><use href="#cB" x="1620.14" y="78.55"/><use href="#cB" x="1629.16" y="76.84"/><use href="#cB" x="1638.19" y="72.62"/><use href="#cB" x="1647.21" y="68.74"/><use href="#cB" x="1656.24" y="69.94"/><use href="#cB" x="1665.27" y="68.63"/><use href="#cB" x="1674.29" y="67.94"/><use href="#cB" x="1683.32" y="64.35"/><use href="#cB" x="1692.34" y="63.95"/><use href="#cB" x="1701.37" y="63.95"/><use href="#cB" x="1710.4" y="62.59"/><use href="#cB" x="1719.42" y="61.22"/><use href="#cB" x="1728.45" y="61.22"/><use href="#cB" x="1737.47" y="57.91"/><use href="#cB" x="1746.5" y="53.47"/><polyline points="1304.23,276.9 1313.25,233.87 1322.28,207.65 1331.3,189.98 1340.33,172.94 1349.36,165.81 1358.38,156.86 1367.41,156.35 1376.43,147.23 1385.46,142.1 1394.49,133.61 1403.51,130.87 1412.54,127.28 1421.56,125.46 1430.59,121.92 1439.62,114.4 1448.64,110.81 1457.67,113.83 1466.69,108.47 1475.72,104.02 1484.75,101.29 1493.77,104.88 1502.8,99.52 1511.82,96.84 1520.85,93.25 1529.88,94.16 1538.9,91.48 1547.93,88.46 1556.95,86.75 1565.98,85.1 1575.01,81.4 1584.03,79.4 1593.06,79.97 1602.08,73.7 1611.11,72.9 1620.14,71.02 1629.16,72.16 1638.19,68.51 1647.21,69.03 1656.24,67.83 1665.27,62.87 1674.29,62.87 1683.32,61.5 1692.34,60.59 1701.37,56.83 1710.4,58.42 1719.42,55.75 1728.45,55.23 1737.47,53.86 1746.5,50.79" fill="none" stroke="#c87a40" stroke-width="1" stroke-linejoin="round" stroke-linecap="square"/><use href="#cO" x="1304.23" y="276.9"/><use href="#cO" x="1313.25" y="233.87"/><use href="#cO" x="1322.28" y="207.65"/><use href="#cO" x="1331.3" y="189.98"/><use href="#cO" x="1340.33" y="172.94"/><use href="#cO" x="1349.36" y="165.81"/><use href="#cO" x="1358.38" y="156.86"/><use href="#cO" x="1367.41" y="156.35"/><use href="#cO" x="1376.43" y="147.23"/><use href="#cO" x="1385.46" y="142.1"/><use href="#cO" x="1394.49" y="133.61"/><use href="#cO" x="1403.51" y="130.87"/><use href="#cO" x="1412.54" y="127.28"/><use href="#cO" x="1421.56" y="125.46"/><use href="#cO" x="1430.59" y="121.92"/><use href="#cO" x="1439.62" y="114.4"/><use href="#cO" x="1448.64" y="110.81"/><use href="#cO" x="1457.67" y="113.83"/><use href="#cO" x="1466.69" y="108.47"/><use href="#cO" x="1475.72" y="104.02"/><use href="#cO" x="1484.75" y="101.29"/><use href="#cO" x="1493.77" y="104.88"/><use href="#cO" x="1502.8" y="99.52"/><use href="#cO" x="1511.82" y="96.84"/><use href="#cO" x="1520.85" y="93.25"/><use href="#cO" x="1529.88" y="94.16"/><use href="#cO" x="1538.9" y="91.48"/><use href="#cO" x="1547.93" y="88.46"/><use href="#cO" x="1556.95" y="86.75"/><use href="#cO" x="1565.98" y="85.1"/><use href="#cO" x="1575.01" y="81.4"/><use href="#cO" x="1584.03" y="79.4"/><use href="#cO" x="1593.06" y="79.97"/><use href="#cO" x="1602.08" y="73.7"/><use href="#cO" x="1611.11" y="72.9"/><use href="#cO" x="1620.14" y="71.02"/><use href="#cO" x="1629.16" y="72.16"/><use href="#cO" x="1638.19" y="68.51"/><use href="#cO" x="1647.21" y="69.03"/><use href="#cO" x="1656.24" y="67.83"/><use href="#cO" x="1665.27" y="62.87"/><use href="#cO" x="1674.29" y="62.87"/><use href="#cO" x="1683.32" y="61.5"/><use href="#cO" x="1692.34" y="60.59"/><use href="#cO" x="1701.37" y="56.83"/><use href="#cO" x="1710.4" y="58.42"/><use href="#cO" x="1719.42" y="55.75"/><use href="#cO" x="1728.45" y="55.23"/><use href="#cO" x="1737.47" y="53.86"/><use href="#cO" x="1746.5" y="50.79"/><polyline points="1304.23,276.9 1313.25,244.3 1322.28,229.2 1331.3,190.84 1340.33,177.44 1349.36,168.49 1358.38,161.48 1367.41,152.36 1376.43,147.23 1385.46,142.67 1394.49,136.4 1403.51,132.98 1412.54,130.13 1421.56,127.85 1430.59,125.86 1439.62,125.46 1448.64,124.72 1457.67,123.69 1466.69,122.72 1475.72,120.44 1484.75,118.73 1493.77,114.74 1502.8,117.42 1511.82,113.83 1520.85,109.04 1529.88,108.47 1538.9,106.7 1547.93,97.75 1556.95,95.93 1565.98,93.82 1575.01,92.17 1584.03,91.48 1593.06,86.24 1602.08,82.82 1611.11,81.11 1620.14,81.51 1629.16,81.05 1638.19,78.37 1647.21,76.84 1656.24,73.59 1665.27,70.28 1674.29,68.91 1683.32,67.83 1692.34,66.23 1701.37,65.55 1710.4,62.87 1719.42,62.87 1728.45,62.19 1737.47,60.19 1746.5,61.5" fill="none" stroke="#3e8a48" stroke-width="1" stroke-linejoin="round" stroke-linecap="square"/><use href="#cG" x="1304.23" y="276.9"/><use href="#cG" x="1313.25" y="244.3"/><use href="#cG" x="1322.28" y="229.2"/><use href="#cG" x="1331.3" y="190.84"/><use href="#cG" x="1340.33" y="177.44"/><use href="#cG" x="1349.36" y="168.49"/><use href="#cG" x="1358.38" y="161.48"/><use href="#cG" x="1367.41" y="152.36"/><use href="#cG" x="1376.43" y="147.23"/><use href="#cG" x="1385.46" y="142.67"/><use href="#cG" x="1394.49" y="136.4"/><use href="#cG" x="1403.51" y="132.98"/><use href="#cG" x="1412.54" y="130.13"/><use href="#cG" x="1421.56" y="127.85"/><use href="#cG" x="1430.59" y="125.86"/><use href="#cG" x="1439.62" y="125.46"/><use href="#cG" x="1448.64" y="124.72"/><use href="#cG" x="1457.67" y="123.69"/><use href="#cG" x="1466.69" y="122.72"/><use href="#cG" x="1475.72" y="120.44"/><use href="#cG" x="1484.75" y="118.73"/><use href="#cG" x="1493.77" y="114.74"/><use href="#cG" x="1502.8" y="117.42"/><use href="#cG" x="1511.82" y="113.83"/><use href="#cG" x="1520.85" y="109.04"/><use href="#cG" x="1529.88" y="108.47"/><use href="#cG" x="1538.9" y="106.7"/><use href="#cG" x="1547.93" y="97.75"/><use href="#cG" x="1556.95" y="95.93"/><use href="#cG" x="1565.98" y="93.82"/><use href="#cG" x="1575.01" y="92.17"/><use href="#cG" x="1584.03" y="91.48"/><use href="#cG" x="1593.06" y="86.24"/><use href="#cG" x="1602.08" y="82.82"/><use href="#cG" x="1611.11" y="81.11"/><use href="#cG" x="1620.14" y="81.51"/><use href="#cG" x="1629.16" y="81.05"/><use href="#cG" x="1638.19" y="78.37"/><use href="#cG" x="1647.21" y="76.84"/><use href="#cG" x="1656.24" y="73.59"/><use href="#cG" x="1665.27" y="70.28"/><use href="#cG" x="1674.29" y="68.91"/><use href="#cG" x="1683.32" y="67.83"/><use href="#cG" x="1692.34" y="66.23"/><use href="#cG" x="1701.37" y="65.55"/><use href="#cG" x="1710.4" y="62.87"/><use href="#cG" x="1719.42" y="62.87"/><use href="#cG" x="1728.45" y="62.19"/><use href="#cG" x="1737.47" y="60.19"/><use href="#cG" x="1746.5" y="61.5"/><polyline points="1304.23,381.56 1313.25,380.42 1322.28,371.58 1331.3,366.74 1340.33,365.71 1349.36,363.94 1358.38,363.94 1367.41,358.99 1376.43,358.99 1385.46,355.22 1394.49,354.14 1403.51,350.15 1412.54,350.15 1421.56,346.22 1430.59,342.85 1439.62,341.71 1448.64,342.06 1457.67,340.92 1466.69,336.87 1475.72,335.05 1484.75,331.06 1493.77,333.05 1502.8,330.03 1511.82,329 1520.85,318.34 1529.88,316.75 1538.9,311.68 1547.93,309.68 1556.95,310.88 1565.98,297.82 1575.01,295.77 1584.03,278.05 1593.06,277.48 1602.08,278.05 1611.11,277.48 1620.14,276.33 1629.16,271.77 1638.19,273.2 1647.21,274.34 1656.24,262.31 1665.27,249.54 1674.29,238.77 1683.32,232.96 1692.34,228.06 1701.37,228.06 1710.4,225.78 1719.42,224.69 1728.45,222.47 1737.47,219.73 1746.5,216.37" fill="none" stroke="#8a2a30" stroke-width="1" stroke-linejoin="round" stroke-linecap="square"/><use href="#cR" x="1304.23" y="381.56"/><use href="#cR" x="1313.25" y="380.42"/><use href="#cR" x="1322.28" y="371.58"/><use href="#cR" x="1331.3" y="366.74"/><use href="#cR" x="1340.33" y="365.71"/><use href="#cR" x="1349.36" y="363.94"/><use href="#cR" x="1358.38" y="363.94"/><use href="#cR" x="1367.41" y="358.99"/><use href="#cR" x="1376.43" y="358.99"/><use href="#cR" x="1385.46" y="355.22"/><use href="#cR" x="1394.49" y="354.14"/><use href="#cR" x="1403.51" y="350.15"/><use href="#cR" x="1412.54" y="350.15"/><use href="#cR" x="1421.56" y="346.22"/><use href="#cR" x="1430.59" y="342.85"/><use href="#cR" x="1439.62" y="341.71"/><use href="#cR" x="1448.64" y="342.06"/><use href="#cR" x="1457.67" y="340.92"/><use href="#cR" x="1466.69" y="336.87"/><use href="#cR" x="1475.72" y="335.05"/><use href="#cR" x="1484.75" y="331.06"/><use href="#cR" x="1493.77" y="333.05"/><use href="#cR" x="1502.8" y="330.03"/><use href="#cR" x="1511.82" y="329"/><use href="#cR" x="1520.85" y="318.34"/><use href="#cR" x="1529.88" y="316.75"/><use href="#cR" x="1538.9" y="311.68"/><use href="#cR" x="1547.93" y="309.68"/><use href="#cR" x="1556.95" y="310.88"/><use href="#cR" x="1565.98" y="297.82"/><use href="#cR" x="1575.01" y="295.77"/><use href="#cR" x="1584.03" y="278.05"/><use href="#cR" x="1593.06" y="277.48"/><use href="#cR" x="1602.08" y="278.05"/><use href="#cR" x="1611.11" y="277.48"/><use href="#cR" x="1620.14" y="276.33"/><use href="#cR" x="1629.16" y="271.77"/><use href="#cR" x="1638.19" y="273.2"/><use href="#cR" x="1647.21" y="274.34"/><use href="#cR" x="1656.24" y="262.31"/><use href="#cR" x="1665.27" y="249.54"/><use href="#cR" x="1674.29" y="238.77"/><use href="#cR" x="1683.32" y="232.96"/><use href="#cR" x="1692.34" y="228.06"/><use href="#cR" x="1701.37" y="228.06"/><use href="#cR" x="1710.4" y="225.78"/><use href="#cR" x="1719.42" y="224.69"/><use href="#cR" x="1728.45" y="222.47"/><use href="#cR" x="1737.47" y="219.73"/><use href="#cR" x="1746.5" y="216.37"/><polyline points="1304.23,276.9 1313.25,247.95 1322.28,230.22 1331.3,193.51 1340.33,182.8 1349.36,172.94 1358.38,170.26 1367.41,163.13 1376.43,147 1385.46,142.56 1394.49,138.05 1403.51,132.7 1412.54,130.47 1421.56,129.05 1430.59,125.86 1439.62,125.46 1448.64,125.11 1457.67,123.69 1466.69,121.52 1475.72,118.67 1484.75,117.42 1493.77,116.91 1502.8,112.97 1511.82,108.47 1520.85,99.52 1529.88,101.29 1538.9,96.84 1547.93,96.5 1556.95,94.5 1565.98,86.75 1575.01,86.75 1584.03,85.78 1593.06,85.16 1602.08,82.02 1611.11,81.05 1620.14,78.83 1629.16,77.12 1638.19,72.9 1647.21,69.03 1656.24,70.22 1665.27,68.91 1674.29,68.23 1683.32,64.64 1692.34,64.24 1701.37,64.24 1710.4,62.87 1719.42,61.5 1728.45,61.5 1737.47,58.2 1746.5,54.83" fill="none" stroke="#6a5aa0" stroke-width="1" stroke-linejoin="round" stroke-linecap="square"/><use href="#cP" x="1304.23" y="276.9"/><use href="#cP" x="1313.25" y="247.95"/><use href="#cP" x="1322.28" y="230.22"/><use href="#cP" x="1331.3" y="193.51"/><use href="#cP" x="1340.33" y="182.8"/><use href="#cP" x="1349.36" y="172.94"/><use href="#cP" x="1358.38" y="170.26"/><use href="#cP" x="1367.41" y="163.13"/><use href="#cP" x="1376.43" y="147"/><use href="#cP" x="1385.46" y="142.56"/><use href="#cP" x="1394.49" y="138.05"/><use href="#cP" x="1403.51" y="132.7"/><use href="#cP" x="1412.54" y="130.47"/><use href="#cP" x="1421.56" y="129.05"/><use href="#cP" x="1430.59" y="125.86"/><use href="#cP" x="1439.62" y="125.46"/><use href="#cP" x="1448.64" y="125.11"/><use href="#cP" x="1457.67" y="123.69"/><use href="#cP" x="1466.69" y="121.52"/><use href="#cP" x="1475.72" y="118.67"/><use href="#cP" x="1484.75" y="117.42"/><use href="#cP" x="1493.77" y="116.91"/><use href="#cP" x="1502.8" y="112.97"/><use href="#cP" x="1511.82" y="108.47"/><use href="#cP" x="1520.85" y="99.52"/><use href="#cP" x="1529.88" y="101.29"/><use href="#cP" x="1538.9" y="96.84"/><use href="#cP" x="1547.93" y="96.5"/><use href="#cP" x="1556.95" y="94.5"/><use href="#cP" x="1565.98" y="86.75"/><use href="#cP" x="1575.01" y="86.75"/><use href="#cP" x="1584.03" y="85.78"/><use href="#cP" x="1593.06" y="85.16"/><use href="#cP" x="1602.08" y="82.02"/><use href="#cP" x="1611.11" y="81.05"/><use href="#cP" x="1620.14" y="78.83"/><use href="#cP" x="1629.16" y="77.12"/><use href="#cP" x="1638.19" y="72.9"/><use href="#cP" x="1647.21" y="69.03"/><use href="#cP" x="1656.24" y="70.22"/><use href="#cP" x="1665.27" y="68.91"/><use href="#cP" x="1674.29" y="68.23"/><use href="#cP" x="1683.32" y="64.64"/><use href="#cP" x="1692.34" y="64.24"/><use href="#cP" x="1701.37" y="64.24"/><use href="#cP" x="1710.4" y="62.87"/><use href="#cP" x="1719.42" y="61.5"/><use href="#cP" x="1728.45" y="61.5"/><use href="#cP" x="1737.47" y="58.2"/><use href="#cP" x="1746.5" y="54.83"/><rect x="1282" y="36.1" width="487" height="361.8" fill="none" stroke="#000" stroke-width="1.1"/><line x1="1295.2" y1="397.9" x2="1295.2" y2="402.57" stroke="#000" stroke-width="1.1"/><text x="1295.2" y="419.2" text-anchor="middle" font-size="16">0</text><line x1="1340.33" y1="397.9" x2="1340.33" y2="402.57" stroke="#000" stroke-width="1.1"/><text x="1340.33" y="419.2" text-anchor="middle" font-size="16">5</text><line x1="1385.46" y1="397.9" x2="1385.46" y2="402.57" stroke="#000" stroke-width="1.1"/><text x="1385.46" y="419.2" text-anchor="middle" font-size="16">10</text><line x1="1430.59" y1="397.9" x2="1430.59" y2="402.57" stroke="#000" stroke-width="1.1"/><text x="1430.59" y="419.2" text-anchor="middle" font-size="16">15</text><line x1="1475.72" y1="397.9" x2="1475.72" y2="402.57" stroke="#000" stroke-width="1.1"/><text x="1475.72" y="419.2" text-anchor="middle" font-size="16">20</text><line x1="1520.85" y1="397.9" x2="1520.85" y2="402.57" stroke="#000" stroke-width="1.1"/><text x="1520.85" y="419.2" text-anchor="middle" font-size="16">25</text><line x1="1565.98" y1="397.9" x2="1565.98" y2="402.57" stroke="#000" stroke-width="1.1"/><text x="1565.98" y="419.2" text-anchor="middle" font-size="16">30</text><line x1="1611.11" y1="397.9" x2="1611.11" y2="402.57" stroke="#000" stroke-width="1.1"/><text x="1611.11" y="419.2" text-anchor="middle" font-size="16">35</text><line x1="1656.24" y1="397.9" x2="1656.24" y2="402.57" stroke="#000" stroke-width="1.1"/><text x="1656.24" y="419.2" text-anchor="middle" font-size="16">40</text><line x1="1701.37" y1="397.9" x2="1701.37" y2="402.57" stroke="#000" stroke-width="1.1"/><text x="1701.37" y="419.2" text-anchor="middle" font-size="16">45</text><line x1="1746.5" y1="397.9" x2="1746.5" y2="402.57" stroke="#000" stroke-width="1.1"/><text x="1746.5" y="419.2" text-anchor="middle" font-size="16">50</text><line x1="1277.33" y1="387.2" x2="1282" y2="387.2" stroke="#000" stroke-width="1.1"/><text x="1271.4" y="392.8" text-anchor="end" font-size="16">0</text><line x1="1277.33" y1="330.2" x2="1282" y2="330.2" stroke="#000" stroke-width="1.1"/><text x="1271.4" y="335.8" text-anchor="end" font-size="16">100</text><line x1="1277.33" y1="273.2" x2="1282" y2="273.2" stroke="#000" stroke-width="1.1"/><text x="1271.4" y="278.8" text-anchor="end" font-size="16">200</text><line x1="1277.33" y1="216.2" x2="1282" y2="216.2" stroke="#000" stroke-width="1.1"/><text x="1271.4" y="221.8" text-anchor="end" font-size="16">300</text><line x1="1277.33" y1="159.2" x2="1282" y2="159.2" stroke="#000" stroke-width="1.1"/><text x="1271.4" y="164.8" text-anchor="end" font-size="16">400</text><line x1="1277.33" y1="102.2" x2="1282" y2="102.2" stroke="#000" stroke-width="1.1"/><text x="1271.4" y="107.8" text-anchor="end" font-size="16">500</text><line x1="1277.33" y1="45.2" x2="1282" y2="45.2" stroke="#000" stroke-width="1.1"/><text x="1271.4" y="50.8" text-anchor="end" font-size="16">600</text><text x="1525.4" y="444" text-anchor="middle" font-size="22">seed set size</text><text transform="translate(1229.1,217.4) rotate(-90)" text-anchor="middle" font-size="22">influence spread</text><text x="1525" y="26.4" text-anchor="middle" font-size="26.2">feather-lastfm-social (IC model)</text><text x="1203.6" y="30" font-size="38.5" font-weight="bold" style="font-family:'Liberation Sans', Arial, sans-serif">C</text><rect x="1286.7" y="39.4" width="92.6" height="78.9" rx="2" fill="#fff" fill-opacity="0.8" stroke="#cccccc" stroke-width="1"/><line x1="1290.5" y1="48.5" x2="1310.2" y2="48.5" stroke="#3a5a90" stroke-width="1"/><use href="#cLB" x="1300.35" y="48.5"/><text x="1317" y="51.9" font-size="9.5" fill="#000" stroke="#000" stroke-width="0.25">CELFGreedy</text><line x1="1290.5" y1="64.8" x2="1310.2" y2="64.8" stroke="#c87a40" stroke-width="1"/><use href="#cLO" x="1300.35" y="64.8"/><text x="1317" y="68.2" font-size="9.5" fill="#000" stroke="#000" stroke-width="0.25">DomIM</text><line x1="1290.5" y1="80" x2="1310.2" y2="80" stroke="#3e8a48" stroke-width="1"/><use href="#cLG" x="1300.35" y="80"/><text x="1317" y="83.4" font-size="9.5" fill="#000" stroke="#000" stroke-width="0.25">Degree</text><line x1="1290.5" y1="94.4" x2="1310.2" y2="94.4" stroke="#8a2a30" stroke-width="1"/><use href="#cLR" x="1300.35" y="94.4"/><text x="1317" y="97.8" font-size="9.5" fill="#000" stroke="#000" stroke-width="0.25">Random</text><line x1="1290.5" y1="108.3" x2="1310.2" y2="108.3" stroke="#6a5aa0" stroke-width="1"/><use href="#cLP" x="1300.35" y="108.3"/><text x="1317" y="111.7" font-size="9.5" fill="#000" stroke="#000" stroke-width="0.25">TreeCore</text></svg></body></html>
